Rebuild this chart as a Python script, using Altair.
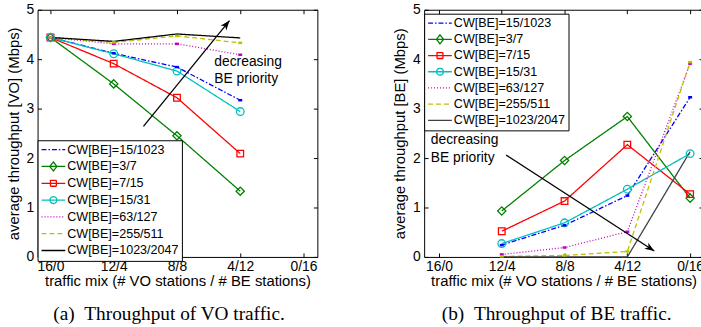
import altair as alt
import pandas as pd

# ---------------- data ----------------
mix_labels = ["16/0", "12/4", "8/8", "4/12", "0/16"]
series = ["CW[BE]=15/1023", "CW[BE]=3/7", "CW[BE]=7/15", "CW[BE]=15/31",
          "CW[BE]=63/127", "CW[BE]=255/511", "CW[BE]=1023/2047"]

# (a) VO throughput, mixes 16/0 .. 4/12
vo_mix = ["16/0", "12/4", "8/8", "4/12"]
vo_15_1023 = [4.44, 4.12, 3.84, 3.17]
vo_3_7 = [4.44, 3.50, 2.45, 1.33]
vo_7_15 = [4.44, 3.91, 3.22, 2.09]
vo_15_31 = [4.44, 4.11, 3.76, 2.94]
vo_63_127 = [4.44, 4.31, 4.31, 4.09]
vo_255_511 = [4.44, 4.34, 4.47, 4.33]
vo_1023_2047 = [4.44, 4.36, 4.51, 4.43]

# (b) BE throughput, mixes 12/4 .. 0/16
be_mix = ["12/4", "8/8", "4/12", "0/16"]
be_15_1023 = [0.24, 0.64, 1.24, 3.23]
be_3_7 = [0.93, 1.95, 2.84, 1.19]
be_7_15 = [0.52, 1.13, 2.27, 1.27]
be_15_31 = [0.27, 0.69, 1.37, 2.09]
be_63_127 = [0.05, 0.19, 0.51, 3.91]
be_255_511 = [0.01, 0.03, 0.11, 3.94]
be_1023_2047 = [0.0, 0.0, 0.0, 2.13]

# annotations (data units: x = mix index, y = Mbps)
a_arrow_x = [1.47, 2.83]
a_arrow_y = [2.64, 4.78]
a_text = ["decreasing", "BE priority"]
a_text_x = [2.59, 2.59]
a_text_y = [3.94, 3.60]
b_arrow_x = [1.07, 3.43]
b_arrow_y = [2.06, 0.12]
b_text = ["decreasing", "BE priority"]
b_text_x = [-0.13, -0.13]
b_text_y = [2.36, 2.00]

# ---------------- styles ----------------
base_colors = ["#0000ff", "#008000", "#ff0000", "#00bfbf", "#bf00bf", "#bfbf00"]
dashes = [[5, 2, 1.5, 2], [1, 0], [1, 0], [1, 0], [1, 2], [5, 3], [1, 0]]
legend_paths = [
    "M-1,0H1",
    "M-1,0H1M0,-0.38L0.3,0L0,0.38L-0.3,0Z",
    "M-1,0H1M-0.25,-0.25H0.25V0.25H-0.25Z",
    "M-1,0H1M0.29,0A0.29,0.29,0,1,1,-0.29,0A0.29,0.29,0,1,1,0.29,0Z",
    "M-1,0H1",
    "M-1,0H1",
    "M-1,0H1",
]
arrow_path = "M0,0L0.38,1L0,0.72L-0.38,1Z"
bar_path = "M-1,0H1"
label_expr = "[" + ",".join("'%s'" % l for l in mix_labels) + "][datum.value]"
FONT = "Liberation Sans"


def long_df(mix, cols):
    rows = []
    for s, vals in zip(series, cols):
        for m, v in zip(mix, vals):
            rows.append({"series": s, "xi": mix_labels.index(m), "v": v})
    return pd.DataFrame(rows)


vo_df = long_df(vo_mix, [vo_15_1023, vo_3_7, vo_7_15, vo_15_31, vo_63_127, vo_255_511, vo_1023_2047])
be_df = long_df(be_mix, [be_15_1023, be_3_7, be_7_15, be_15_31, be_63_127, be_255_511, be_1023_2047])


def panel(df, arrow_x, arrow_y, angle, texts, tx, ty, ytitle, caption, cap_dx,
          legend_y, row_pad, black, xdomain, width):
    color_scale = alt.Scale(domain=series, range=base_colors + [black])
    dash_scale = alt.Scale(domain=series, range=dashes)
    shape_scale = alt.Scale(domain=series, range=legend_paths)
    xs = alt.Scale(domain=xdomain, nice=False, zero=False)
    ys = alt.Scale(domain=[0, 5], nice=False)
    tick_common = dict(offset=-4, tickSize=4, domain=False, grid=False)

    x_main = alt.X("xi:Q", scale=xs, axis=alt.Axis(
        orient="bottom", values=[0, 1, 2, 3, 4], labelExpr=label_expr,
        title="traffic mix (# VO stations / # BE stations)",
        labelFontSize=14, titleFontSize=15, labelFont=FONT, titleFont=FONT,
        labelPadding=3, titlePadding=0, **tick_common))
    y_main = alt.Y("v:Q", scale=ys, axis=alt.Axis(
        orient="left", values=[0, 1, 2, 3, 4, 5], title=ytitle,
        labelFontSize=14, titleFontSize=15, labelFont=FONT, titleFont=FONT,
        labelPadding=4, titlePadding=5, **tick_common))
    x_plain = alt.X("xi:Q", axis=None)
    y_plain = alt.Y("v:Q", axis=None)
    col = alt.Color("series:N")

    leg = alt.Legend(title=None, orient="none", legendX=0, legendY=legend_y,
                     symbolSize=576, symbolStrokeWidth=1.3, clipHeight=13,
                     rowPadding=row_pad, labelOffset=1, padding=3,
                     labelFontSize=12.7, labelFont=FONT, labelColor="black",
                     strokeColor="black", fillColor="white")

    base = alt.Chart(df)
    lines = base.mark_line(strokeWidth=1.3).encode(
        x=x_main, y=y_main,
        color=alt.Color("series:N", scale=color_scale, legend=leg),
        strokeDash=alt.StrokeDash("series:N", scale=dash_scale, legend=leg),
    )
    diamonds = base.transform_filter(alt.datum.series == series[1]).mark_point(
        shape="diamond", size=70, filled=False, strokeWidth=1.3, opacity=1
    ).encode(x=x_plain, y=y_plain, color=col)
    squares = base.transform_filter(alt.datum.series == series[2]).mark_point(
        shape="square", size=45, filled=False, strokeWidth=1.3, opacity=1
    ).encode(x=x_plain, y=y_plain, color=col)
    circles = base.transform_filter(alt.datum.series == series[3]).mark_point(
        shape="circle", size=60, filled=False, strokeWidth=1.3, opacity=1
    ).encode(x=x_plain, y=y_plain, color=col)
    bars = base.transform_filter(
        alt.FieldOneOfPredicate(field="series", oneOf=[series[0], series[4], series[5]])
    ).mark_point(shape=bar_path, size=16, filled=False, strokeWidth=2.5, opacity=1).encode(
        x=x_plain, y=y_plain, color=col)

    legend_df = pd.DataFrame({"series": series, "xi": [0] * len(series), "v": [-1.0] * len(series)})
    legend_layer = alt.Chart(legend_df).mark_point(filled=False, clip=True, strokeWidth=1.3).encode(
        x=alt.X("xi:Q", axis=alt.Axis(orient="top", values=[0, 1, 2, 3, 4], labels=False,
                                      title=None, **tick_common)),
        y=alt.Y("v:Q", axis=alt.Axis(orient="right", values=[0, 1, 2, 3, 4, 5], labels=False,
                                     title=None, **tick_common)),
        color=alt.Color("series:N", legend=leg),
        strokeDash=alt.StrokeDash("series:N", legend=leg),
        shape=alt.Shape("series:N", scale=shape_scale, legend=leg),
    )

    arrow_df = pd.DataFrame({"xi": arrow_x, "v": arrow_y})
    arrow_line = alt.Chart(arrow_df).mark_line(color="black", strokeWidth=1.3).encode(
        x=x_plain, y=y_plain)
    arrow_head = alt.Chart(arrow_df.iloc[[1]]).mark_point(
        shape=arrow_path, size=380, filled=True, color="black", angle=angle, opacity=1
    ).encode(x=x_plain, y=y_plain)
    text_df = pd.DataFrame({"t": texts, "xi": tx, "v": ty})
    text_layer = alt.Chart(text_df).mark_text(
        align="left", baseline="middle", fontSize=14, font=FONT, color="black"
    ).encode(x=x_plain, y=y_plain, text="t:N")

    return alt.layer(
        lines, diamonds, squares, circles, bars, arrow_line, arrow_head, text_layer, legend_layer
    ).properties(
        width=width, height=250,
        title=alt.TitleParams(caption, orient="bottom", font="Liberation Serif", fontSize=19.5,
                              fontWeight="normal", color="black", anchor="middle",
                              frame="group", dx=cap_dx, offset=17),
    )


left = panel(vo_df, a_arrow_x, a_arrow_y, 39, a_text, a_text_x, a_text_y,
             "average throughput [VO] (Mbps)", "(a)\u00a0\u00a0Throughput of VO traffic.", -8.5,
             132, 3, "#000000", [-0.203, 4.219], 283)
right = panel(be_df, b_arrow_x, b_arrow_y, 123, b_text, b_text_x, b_text_y,
              "average throughput [BE] (Mbps)", "(b)\u00a0\u00a0Throughput of BE traffic.", -7,
              4, 2.4, "#404040", [-0.236, 4.205], 282)

chart = alt.hconcat(left, right, spacing=74).resolve_scale(
    color="independent", strokeDash="independent", shape="independent"
).resolve_legend(
    color="independent", strokeDash="independent", shape="independent"
).properties(
    padding={"left": 5, "top": 0, "right": -4, "bottom": 0}
).configure_view(stroke="black", strokeWidth=1).configure_axis(
    labelColor="black", titleColor="black", titleFontWeight="normal",
    tickColor="black", tickWidth=1
)

chart.save("out.html", embed_options={"renderer": "svg", "actions": False})
